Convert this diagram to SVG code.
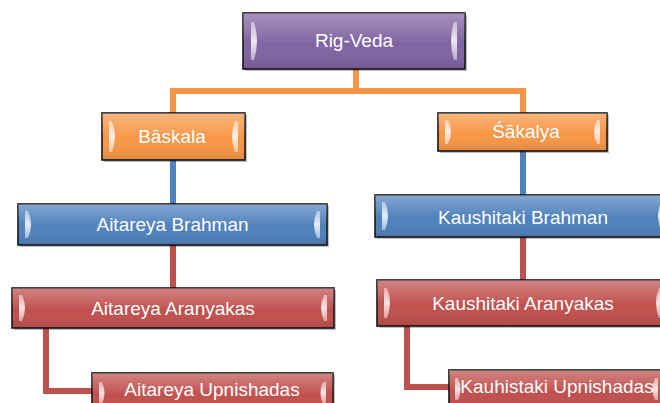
<svg xmlns="http://www.w3.org/2000/svg" width="660" height="403" viewBox="0 0 660 403">
<defs>
<linearGradient id="gloss" x1="0" y1="0" x2="0" y2="1">
<stop offset="0" stop-color="#fff" stop-opacity="0.3"/>
<stop offset="0.45" stop-color="#fff" stop-opacity="0.06"/>
<stop offset="0.55" stop-color="#fff" stop-opacity="0"/>
<stop offset="1" stop-color="#000" stop-opacity="0.1"/>
</linearGradient>
<linearGradient id="brk" x1="0" y1="0" x2="0" y2="1">
<stop offset="0" stop-color="#fff" stop-opacity="0.45"/>
<stop offset="0.5" stop-color="#fff" stop-opacity="0.85"/>
<stop offset="1" stop-color="#fff" stop-opacity="0.45"/>
</linearGradient>
</defs>
<style>
.box{stroke:#141414;stroke-width:1.6}
.sh{fill:#000;opacity:0.25}
.gl{fill:url(#gloss)}
.br{fill:url(#brk)}
.purple{fill:#8064a2}
.orange{fill:#f79646}
.blue{fill:#4f81bd}
.red{fill:#c0504d}
text{font-family:"Liberation Sans",Arial,sans-serif;font-size:19px;fill:#fff;text-anchor:middle}
.c{fill:none;stroke-width:6;stroke-linejoin:miter}
</style>
<g id="connectors">
<path class="c" stroke="#f79646" d="M356 69 V91 M173 91 H523 M173 88 V113 M523 88 V113"/>
<path class="c" stroke="#4f81bd" d="M173 160 V204 M523 151 V195"/>
<path class="c" stroke="#c0504d" d="M173 245 V288 M523 237 V280"/>
<path class="c" stroke="#c0504d" d="M46 328 V391 H92 M407 326 V387 H449"/>
</g>
<g id="rig-veda">
<rect class="sh" x="245" y="15" width="222" height="56"/>
<rect class="box purple" x="243" y="13" width="222" height="56"/>
<rect class="gl" x="243" y="13" width="222" height="56"/>
<path class="br" d="M251 22 L254 22 Q260 41 254 60 L251 60 Z"/>
<path class="br" d="M457 22 L454 22 Q448 41 454 60 L457 60 Z"/>
<text x="354" y="47">Rig-Veda</text>
</g>
<g id="baskala">
<rect class="sh" x="104" y="115" width="143" height="47"/>
<rect class="box orange" x="102" y="113" width="143" height="47"/>
<rect class="gl" x="102" y="113" width="143" height="47"/>
<path class="br" d="M109 121 L112 121 Q118 136.5 112 152 L109 152 Z"/>
<path class="br" d="M238 121 L235 121 Q229 136.5 235 152 L238 152 Z"/>
<text x="172" y="143">Bāskala</text>
</g>
<g id="sakalya">
<rect class="sh" x="440" y="115" width="169" height="38"/>
<rect class="box orange" x="438" y="113" width="169" height="38"/>
<rect class="gl" x="438" y="113" width="169" height="38"/>
<path class="br" d="M445 120 L448 120 Q454 132 448 144 L445 144 Z"/>
<path class="br" d="M600 120 L597 120 Q591 132 597 144 L600 144 Z"/>
<text x="526" y="138">Śākalya</text>
</g>
<g id="aitareya-brahman">
<rect class="sh" x="20" y="206" width="309" height="41"/>
<rect class="box blue" x="18" y="204" width="309" height="41"/>
<rect class="gl" x="18" y="204" width="309" height="41"/>
<path class="br" d="M25 211 L28 211 Q34 224.5 28 238 L25 238 Z"/>
<path class="br" d="M320 211 L317 211 Q311 224.5 317 238 L320 238 Z"/>
<text x="172.5" y="231">Aitareya Brahman</text>
</g>
<g id="kaushitaki-brahman">
<rect class="sh" x="377" y="197" width="296" height="42"/>
<rect class="box blue" x="375" y="195" width="296" height="42"/>
<rect class="gl" x="375" y="195" width="296" height="42"/>
<path class="br" d="M382 202 L385 202 Q391 216 385 230 L382 230 Z"/>
<path class="br" d="M664 202 L661 202 Q655 216 661 230 L664 230 Z"/>
<text x="523" y="224">Kaushitaki Brahman</text>
</g>
<g id="aitareya-aranyakas">
<rect class="sh" x="14" y="290" width="322" height="40"/>
<rect class="box red" x="12" y="288" width="322" height="40"/>
<rect class="gl" x="12" y="288" width="322" height="40"/>
<path class="br" d="M19 295 L22 295 Q28 308 22 321 L19 321 Z"/>
<path class="br" d="M327 295 L324 295 Q318 308 324 321 L327 321 Z"/>
<text x="173" y="315">Aitareya Aranyakas</text>
</g>
<g id="kaushitaki-aranyakas">
<rect class="sh" x="379" y="282" width="292" height="46"/>
<rect class="box red" x="377" y="280" width="292" height="46"/>
<rect class="gl" x="377" y="280" width="292" height="46"/>
<path class="br" d="M384 288 L387 288 Q393 303 387 318 L384 318 Z"/>
<path class="br" d="M662 288 L659 288 Q653 303 659 318 L662 318 Z"/>
<text x="523" y="310">Kaushitaki Aranyakas</text>
</g>
<g id="aitareya-upnishadas">
<rect class="sh" x="94" y="375" width="241" height="40"/>
<rect class="box red" x="92" y="373" width="241" height="40"/>
<rect class="gl" x="92" y="373" width="241" height="40"/>
<path class="br" d="M99 382 L102 382 Q107 393 102 404 L99 404 Z"/>
<path class="br" d="M326 382 L323 382 Q318 393 323 404 L326 404 Z"/>
<text x="212" y="396">Aitareya Upnishadas</text>
</g>
<g id="kauhistaki-upnishadas">
<rect class="sh" x="451" y="372" width="216" height="40"/>
<rect class="box red" x="449" y="370" width="216" height="40"/>
<rect class="gl" x="449" y="370" width="216" height="40"/>
<path class="br" d="M455 378 L458 378 Q463 389 458 400 L455 400 Z"/>
<path class="br" d="M658 378 L655 378 Q650 389 655 400 L658 400 Z"/>
<text x="557" y="393">Kauhistaki Upnishadas</text>
</g>
</svg>
